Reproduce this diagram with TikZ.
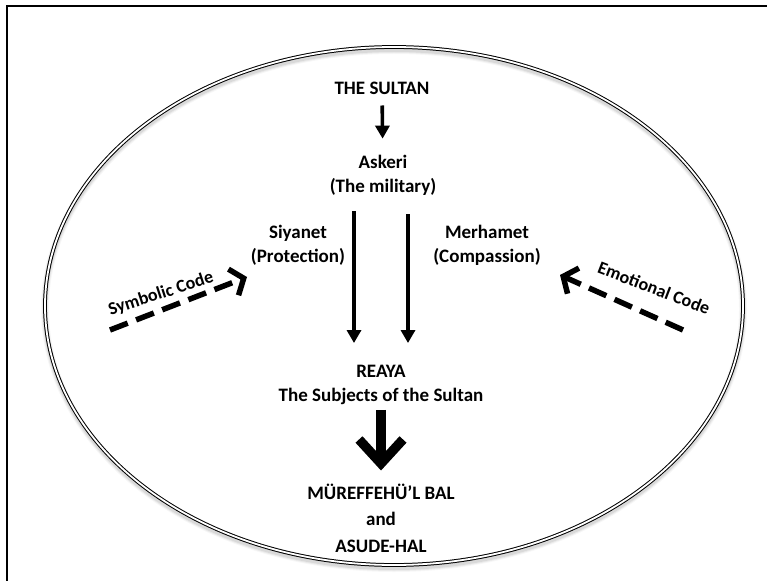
\documentclass[tikz,border=0pt]{standalone}
\usepackage{fontspec}
\setmainfont{Carlito}
\usetikzlibrary{arrows.meta}
\begin{document}
\begin{tikzpicture}[x=1pt,y=-1pt,
  txt/.style={font=\bfseries\fontsize{19}{24}\selectfont, align=center, inner sep=0pt},
  codelbl/.style={font=\bfseries\fontsize{18}{20}\selectfont, inner sep=0pt},
  solidarr/.style={line width=3.6pt, -{Triangle[length=13pt,width=14pt]}},
  bigarr/.style={line width=9.5pt, -{Straight Barb[length=24pt,width=44pt]}},
  codearr/.style={line width=5.5pt, dash pattern=on 19pt off 9pt,
                  -{Straight Barb[length=11pt,width=28pt]}},
  ring/.style={line width=1pt, double=white, double distance=1.8pt}]

\useasboundingbox (0,0) rectangle (767,580);

% page frame
\draw[line width=1.8pt] (7,590) -- (7,6) -- (775,6);

% soft shadow under the ring, then the ring itself
\foreach \w/\o in {8/0.03,6/0.05,4/0.07}
  \draw[line width=\w pt, black, opacity=\o] (394,309) ellipse [x radius=349, y radius=259];
\draw[ring] (394,306) ellipse [x radius=349, y radius=259];

% labels
\node[txt] (sultan) at (382,88)  {THE SULTAN};
\node[txt] (mil)    at (383,175) {Askeri\\(The military)};
\node[txt] (siy)    at (298,245) {Siyanet\\(Protection)};
\node[txt] (mer)    at (487,245) {Merhamet\\(Compassion)};
\node[txt] (reaya)  at (381,385) {REAYA\\The Subjects of the Sultan};
\node[txt, font=\bfseries\fontsize{19}{26.5}\selectfont] (ref) at (381,518)
  {MÜREFFEHÜ’L BAL\\and\\ASUDE-HAL};

\node[codelbl, rotate=18]  (sym) at (161,294) {Symbolic Code};
\node[codelbl, rotate=-21] (emo) at (654,288) {Emotional Code};

% hierarchy arrows
\draw[solidarr, shorten <=11pt, shorten >=16pt] (sultan) -- (mil);
\draw[solidarr, shorten <=16pt, shorten >=22pt] ([xshift=-29pt]mil.south) -- ([xshift=-27pt]reaya.north);
\draw[solidarr, shorten <=19pt, shorten >=22pt] ([xshift=25pt]mil.south) -- ([xshift=27pt]reaya.north);
\draw[bigarr, shorten <=5pt, shorten >=13pt] (reaya) -- (ref);

% code arrows
\coordinate (symtail) at (110,330);
\coordinate (symtip)  at (247,277);
\coordinate (emotail) at (683,330);
\coordinate (emotip)  at (560,275);
\draw[codearr] (symtail) -- (symtip);
\draw[codearr] (emotail) -- (emotip);
\end{tikzpicture}
\end{document}
